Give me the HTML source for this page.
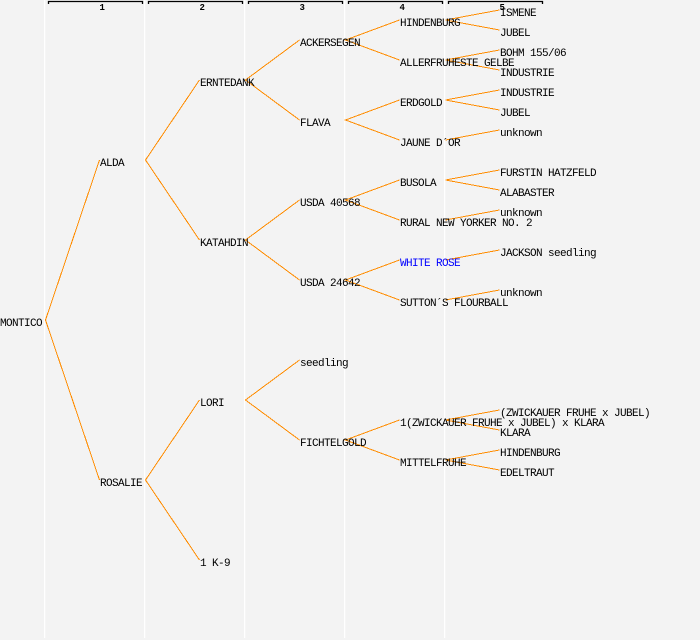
<!DOCTYPE html>
<html><head><meta charset="utf-8"><style>
html,body{margin:0;padding:0;background:#f3f3f3;}
svg{display:block;}
text{font-family:"Liberation Mono","DejaVu Sans Mono",monospace;font-size:11px;letter-spacing:-0.6px;fill:#000;}
text.h{font-size:9px;letter-spacing:0;font-weight:bold;}
</style></head><body>
<svg width="700" height="640" viewBox="0 0 700 640" xmlns="http://www.w3.org/2000/svg">
<rect x="0" y="0" width="700" height="640" fill="#f3f3f3"/>
<g fill="#ffffff">
<rect x="44" y="0" width="1.3" height="638"/>
<rect x="144" y="0" width="1.3" height="638"/>
<rect x="244" y="0" width="1.3" height="638"/>
<rect x="344" y="0" width="1.3" height="638"/>
<rect x="444" y="0" width="1.3" height="638"/>
</g>
<g stroke="#000" stroke-width="1.3" fill="none">
<path d="M48.5 4V1.5H142.5V4"/>
<path d="M148.5 4V1.5H242.5V4"/>
<path d="M248.5 4V1.5H342.5V4"/>
<path d="M348.5 4V1.5H442.5V4"/>
<path d="M448.5 4V1.5H542.5V4"/>
</g>
<text class="h" x="99.5" y="10">1</text>
<text class="h" x="199.5" y="10">2</text>
<text class="h" x="299.5" y="10">3</text>
<text class="h" x="399.5" y="10">4</text>
<text class="h" x="499.5" y="10">5</text>
<g stroke="#ff8c00" stroke-width="1" fill="none" shape-rendering="crispEdges">
<path d="M99.5 160L45.5 320L99.5 480"/>
<path d="M199.5 80L145.5 160L199.5 240"/>
<path d="M199.5 400L145.5 480L199.5 560"/>
<path d="M299.5 40L245.5 80L299.5 120"/>
<path d="M299.5 200L245.5 240L299.5 280"/>
<path d="M299.5 360L245.5 400L299.5 440"/>
<path d="M399.5 20L345.5 40L399.5 60"/>
<path d="M399.5 100L345.5 120L399.5 140"/>
<path d="M399.5 180L345.5 200L399.5 220"/>
<path d="M399.5 260L345.5 280L399.5 300"/>
<path d="M399.5 420L345.5 440L399.5 460"/>
<path d="M499.5 10L445.5 20L499.5 30"/>
<path d="M499.5 50L445.5 60L499.5 70"/>
<path d="M499.5 90L445.5 100L499.5 110"/>
<path d="M445.5 140L499.5 130"/>
<path d="M499.5 170L445.5 180L499.5 190"/>
<path d="M445.5 220L499.5 210"/>
<path d="M445.5 260L499.5 250"/>
<path d="M445.5 300L499.5 290"/>
<path d="M499.5 410L445.5 420L499.5 430"/>
<path d="M499.5 450L445.5 460L499.5 470"/>
</g>
<g>
<text x="0" y="326">MONTICO</text>
<text x="100" y="166">ALDA</text>
<text x="100" y="486">ROSALIE</text>
<text x="200" y="86">ERNTEDANK</text>
<text x="200" y="246">KATAHDIN</text>
<text x="200" y="406">LORI</text>
<text x="200" y="566">1 K-9</text>
<text x="300" y="46">ACKERSEGEN</text>
<text x="300" y="126">FLAVA</text>
<text x="300" y="206">USDA 40568</text>
<text x="300" y="286">USDA 24642</text>
<text x="300" y="366">seedling</text>
<text x="300" y="446">FICHTELGOLD</text>
<text x="400" y="26">HINDENBURG</text>
<text x="400" y="66">ALLERFRUHESTE GELBE</text>
<text x="400" y="106">ERDGOLD</text>
<text x="400" y="146">JAUNE D´OR</text>
<text x="400" y="186">BUSOLA</text>
<text x="400" y="226">RURAL NEW YORKER NO. 2</text>
<text x="400" y="266" style="fill:#0000ff">WHITE ROSE</text>
<text x="400" y="306">SUTTON´S FLOURBALL</text>
<text x="400" y="426">1(ZWICKAUER FRUHE x JUBEL) x KLARA</text>
<text x="400" y="466">MITTELFRUHE</text>
<text x="500" y="16">ISMENE</text>
<text x="500" y="36">JUBEL</text>
<text x="500" y="56">BOHM 155/06</text>
<text x="500" y="76">INDUSTRIE</text>
<text x="500" y="96">INDUSTRIE</text>
<text x="500" y="116">JUBEL</text>
<text x="500" y="136">unknown</text>
<text x="500" y="176">FURSTIN HATZFELD</text>
<text x="500" y="196">ALABASTER</text>
<text x="500" y="216">unknown</text>
<text x="500" y="256">JACKSON seedling</text>
<text x="500" y="296">unknown</text>
<text x="500" y="416">(ZWICKAUER FRUHE x JUBEL)</text>
<text x="500" y="436">KLARA</text>
<text x="500" y="456">HINDENBURG</text>
<text x="500" y="476">EDELTRAUT</text>
</g>
</svg>
</body></html>
